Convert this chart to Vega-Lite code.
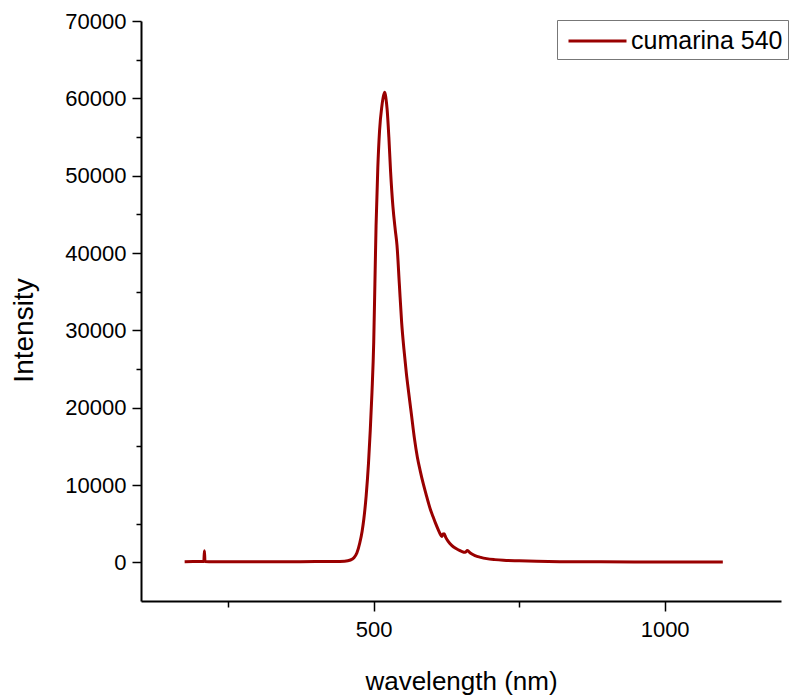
{
  "$schema": "https://vega.github.io/schema/vega-lite/v6.json",
  "autosize": "none",
  "width": 640,
  "height": 580,
  "padding": {"left": 141, "top": 21, "right": 9, "bottom": 99},
  "background": "white",
  "config": {
    "view": {"stroke": null},
    "font": "Liberation Sans"
  },
  "data": {
    "values": [
      {"wavelength": 175, "intensity": 90},
      {"wavelength": 190, "intensity": 110},
      {"wavelength": 200, "intensity": 95},
      {"wavelength": 208, "intensity": 100},
      {"wavelength": 209, "intensity": 1500},
      {"wavelength": 210, "intensity": 120},
      {"wavelength": 225, "intensity": 90},
      {"wavelength": 250, "intensity": 85},
      {"wavelength": 300, "intensity": 80},
      {"wavelength": 350, "intensity": 85},
      {"wavelength": 400, "intensity": 95},
      {"wavelength": 430, "intensity": 110},
      {"wavelength": 450, "intensity": 150},
      {"wavelength": 460, "intensity": 300},
      {"wavelength": 466, "intensity": 600},
      {"wavelength": 471, "intensity": 1200},
      {"wavelength": 476, "intensity": 2500},
      {"wavelength": 480, "intensity": 4000},
      {"wavelength": 483, "intensity": 5600},
      {"wavelength": 487, "intensity": 8600},
      {"wavelength": 491, "intensity": 12800},
      {"wavelength": 494, "intensity": 17000},
      {"wavelength": 497, "intensity": 22000},
      {"wavelength": 500, "intensity": 28500},
      {"wavelength": 502, "intensity": 36000},
      {"wavelength": 504, "intensity": 43500},
      {"wavelength": 507, "intensity": 51000},
      {"wavelength": 510, "intensity": 55800},
      {"wavelength": 514, "intensity": 59000},
      {"wavelength": 517, "intensity": 60400},
      {"wavelength": 519, "intensity": 60800},
      {"wavelength": 521, "intensity": 60000},
      {"wavelength": 523, "intensity": 58600},
      {"wavelength": 526, "intensity": 55000},
      {"wavelength": 529, "intensity": 50500},
      {"wavelength": 533, "intensity": 46000},
      {"wavelength": 537, "intensity": 43000},
      {"wavelength": 540, "intensity": 41000},
      {"wavelength": 544, "intensity": 36000},
      {"wavelength": 548, "intensity": 31000},
      {"wavelength": 552, "intensity": 27500},
      {"wavelength": 556, "intensity": 24500},
      {"wavelength": 560, "intensity": 22000},
      {"wavelength": 565, "intensity": 19000},
      {"wavelength": 570, "intensity": 16000},
      {"wavelength": 575, "intensity": 13600},
      {"wavelength": 580, "intensity": 11800},
      {"wavelength": 585, "intensity": 10200},
      {"wavelength": 590, "intensity": 8800},
      {"wavelength": 594, "intensity": 7700},
      {"wavelength": 598, "intensity": 6700},
      {"wavelength": 602, "intensity": 5900},
      {"wavelength": 606, "intensity": 5100},
      {"wavelength": 611, "intensity": 4200},
      {"wavelength": 614, "intensity": 3700},
      {"wavelength": 617, "intensity": 3350},
      {"wavelength": 619, "intensity": 3650},
      {"wavelength": 621, "intensity": 3700},
      {"wavelength": 624, "intensity": 3200},
      {"wavelength": 628, "intensity": 2700},
      {"wavelength": 634, "intensity": 2200},
      {"wavelength": 640, "intensity": 1850},
      {"wavelength": 646, "intensity": 1600},
      {"wavelength": 651, "intensity": 1420},
      {"wavelength": 657, "intensity": 1290},
      {"wavelength": 661, "intensity": 1520},
      {"wavelength": 666, "intensity": 1200},
      {"wavelength": 674, "intensity": 870},
      {"wavelength": 684, "intensity": 640},
      {"wavelength": 694, "intensity": 480},
      {"wavelength": 708, "intensity": 350},
      {"wavelength": 723, "intensity": 260},
      {"wavelength": 750, "intensity": 190},
      {"wavelength": 780, "intensity": 130},
      {"wavelength": 820, "intensity": 90},
      {"wavelength": 890, "intensity": 60},
      {"wavelength": 950, "intensity": 50},
      {"wavelength": 1000, "intensity": 45},
      {"wavelength": 1050, "intensity": 40},
      {"wavelength": 1100, "intensity": 40}
    ]
  },
  "resolve": {"axis": {"x": "independent", "y": "independent"}},
  "layer": [
    {
      "mark": {"type": "line", "strokeWidth": 3, "interpolate": "monotone"},
      "encoding": {
        "x": {
          "field": "wavelength",
          "type": "quantitative",
          "scale": {"domain": [100, 1200], "nice": false, "zero": false},
          "axis": {
            "orient": "bottom",
            "values": [500, 1000],
            "format": "d",
            "title": "wavelength (nm)",
            "grid": false,
            "domainColor": "black",
            "domainWidth": 2,
            "tickColor": "black",
            "tickWidth": 1.5,
            "tickSize": 10,
            "labelFontSize": 22,
            "labelColor": "black",
            "labelPadding": 8,
            "titleFontSize": 26,
            "titleFontWeight": "normal",
            "titleColor": "black",
            "titleBaseline": "alphabetic",
            "titleY": 88
          }
        },
        "y": {
          "field": "intensity",
          "type": "quantitative",
          "scale": {"domain": [-5000, 70000], "nice": false, "zero": false},
          "axis": {
            "orient": "left",
            "values": [0, 10000, 20000, 30000, 40000, 50000, 60000, 70000],
            "format": "d",
            "title": "Intensity",
            "grid": false,
            "domainColor": "black",
            "domainWidth": 2,
            "tickColor": "black",
            "tickWidth": 1.5,
            "tickSize": 9,
            "labelFontSize": 22,
            "labelColor": "black",
            "labelPadding": 6,
            "titleFontSize": 28,
            "titleFontWeight": "normal",
            "titleColor": "black",
            "titleAngle": -90,
            "titleAlign": "center",
            "titleBaseline": "middle",
            "titleX": -117,
            "titleY": 309
          }
        },
        "color": {
          "datum": "cumarina 540",
          "type": "nominal",
          "scale": {"range": ["#990000"]},
          "legend": {
            "title": null,
            "orient": "none",
            "legendX": 416,
            "legendY": -1,
            "symbolType": "M-0.655,0L3.345,0",
            "symbolSize": 841,
            "symbolStrokeWidth": 3,
            "labelFontSize": 25,
            "labelLimit": 400,
            "labelColor": "black",
            "labelOffset": 37,
            "strokeColor": "#777777",
            "padding": 5,
            "fillColor": "white"
          }
        }
      }
    },
    {
      "mark": {"type": "line", "opacity": 0},
      "encoding": {
        "x": {
          "field": "wavelength",
          "type": "quantitative",
          "axis": {
            "orient": "bottom",
            "values": [250, 750],
            "labels": false,
            "domain": false,
            "grid": false,
            "title": null,
            "tickColor": "black",
            "tickWidth": 1.5,
            "tickSize": 6
          }
        },
        "y": {
          "field": "intensity",
          "type": "quantitative",
          "axis": {
            "orient": "left",
            "values": [5000, 15000, 25000, 35000, 45000, 55000, 65000],
            "labels": false,
            "domain": false,
            "grid": false,
            "title": null,
            "tickColor": "black",
            "tickWidth": 1.5,
            "tickSize": 5
          }
        }
      }
    }
  ]
}
